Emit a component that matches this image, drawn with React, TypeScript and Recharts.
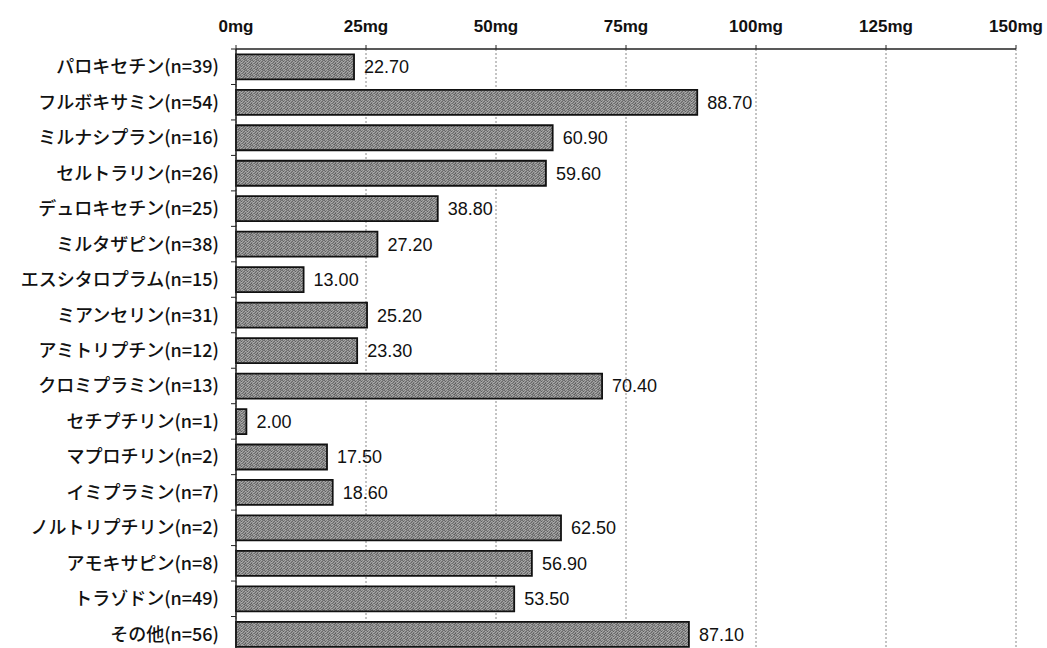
import React from 'react';
import {
  BarChart,
  Bar,
  XAxis,
  YAxis,
  CartesianGrid,
  LabelList,
} from 'recharts';

const drugs = [
  'パロキセチン(n=39)',
  'フルボキサミン(n=54)',
  'ミルナシプラン(n=16)',
  'セルトラリン(n=26)',
  'デュロキセチン(n=25)',
  'ミルタザピン(n=38)',
  'エスシタロプラム(n=15)',
  'ミアンセリン(n=31)',
  'アミトリプチン(n=12)',
  'クロミプラミン(n=13)',
  'セチプチリン(n=1)',
  'マプロチリン(n=2)',
  'イミプラミン(n=7)',
  'ノルトリプチリン(n=2)',
  'アモキサピン(n=8)',
  'トラゾドン(n=49)',
  'その他(n=56)',
];

const doses = [
  22.7, 88.7, 60.9, 59.6, 38.8, 27.2, 13.0, 25.2, 23.3, 70.4, 2.0, 17.5, 18.6,
  62.5, 56.9, 53.5, 87.1,
];

const doseTicks = [0, 25, 50, 75, 100, 125, 150];

const WIDTH = 1047;
const HEIGHT = 660;
const X_AXIS_HEIGHT = 30;
const MARGIN = { top: 19, right: 31, bottom: 8, left: 0 };
const AXIS_WIDTH = 236;
const BAND =
  (HEIGHT - MARGIN.top - MARGIN.bottom - X_AXIS_HEIGHT) / drugs.length;

const jpFont = '"Noto Sans CJK JP", sans-serif';
const numFont = '"Liberation Sans", Arial, sans-serif';

const data = drugs.map((name, i) => ({ name, dose: doses[i] }));

// grey speckle used to fill the bars
const grain = [
  ['#6e6e6e', '#9c9c9c', '#7c7c7c', '#a8a8a8', '#868686', '#727272'],
  ['#959595', '#5e5e5e', '#a2a2a2', '#838383', '#6a6a6a', '#aaaaaa'],
  ['#8a8a8a', '#b0b0b0', '#909090', '#666666', '#9e9e9e', '#7e7e7e'],
  ['#a4a4a4', '#7a7a7a', '#6c6c6c', '#a0a0a0', '#8e8e8e', '#5c5c5c'],
  ['#787878', '#9a9a9a', '#acacac', '#747474', '#626262', '#989898'],
];

const LABEL_GAP = 17;

// category label plus the short boundary tick under each row
function DrugTick(props: any) {
  const { x, y, payload } = props;
  const axisX = x + LABEL_GAP;
  return (
    <g>
      <line
        x1={axisX - 5}
        x2={axisX}
        y1={y + BAND / 2}
        y2={y + BAND / 2}
        stroke="#222"
        strokeWidth={1}
      />
      {payload.index === 0 && (
        <line
          x1={axisX - 5}
          x2={axisX}
          y1={y - BAND / 2}
          y2={y - BAND / 2}
          stroke="#222"
          strokeWidth={1}
        />
      )}
      <text
        x={x}
        y={y}
        dy="0.36em"
        textAnchor="end"
        fontFamily={jpFont}
        fontSize={18}
        fontWeight={500}
        fill="#111"
      >
        {payload.value}
      </text>
    </g>
  );
}

export default function App() {
  return (
    <div
      style={{
        position: 'absolute',
        left: 0,
        top: 0,
        width: WIDTH,
        height: 648,
        overflow: 'hidden',
        background: '#fff',
      }}
    >
      <BarChart
        width={WIDTH}
        height={HEIGHT}
        data={data}
        layout="vertical"
        margin={MARGIN}
        barCategoryGap="15%"
        style={{ overflow: 'visible' }}
      >
        <defs>
          <pattern id="grain" width="6" height="5" patternUnits="userSpaceOnUse">
            {grain.map((row, r) =>
              row.map((c, k) => (
                <rect key={`${r}-${k}`} x={k} y={r} width="1" height="1" fill={c} />
              ))
            )}
          </pattern>
        </defs>
        <CartesianGrid
          horizontal={false}
          strokeDasharray="2 2"
          stroke="#888"
        />
        <XAxis
          type="number"
          orientation="top"
          height={X_AXIS_HEIGHT}
          domain={[0, 150]}
          ticks={doseTicks}
          tickFormatter={(v: number) => `${v}mg`}
          tickSize={4}
          tickMargin={13}
          axisLine={{ stroke: '#222', strokeWidth: 1.5 }}
          tickLine={{ stroke: '#222' }}
          tick={{ fontFamily: numFont, fontSize: 17, fontWeight: 'bold', fill: '#111' }}
          interval={0}
        />
        <YAxis
          type="category"
          dataKey="name"
          width={AXIS_WIDTH}
          tickSize={0}
          tickMargin={LABEL_GAP}
          axisLine={{ stroke: '#222', strokeWidth: 1.5 }}
          tickLine={false}
          tick={<DrugTick />}
          interval={0}
        />
        <Bar
          dataKey="dose"
          fill="url(#grain)"
          stroke="#111"
          strokeWidth={1.8}
          isAnimationActive={false}
        >
          <LabelList
            dataKey="dose"
            position="right"
            offset={10}
            formatter={(v: number) => v.toFixed(2)}
            style={{ fontFamily: numFont, fontSize: 18, fill: '#111' }}
          />
        </Bar>
      </BarChart>
    </div>
  );
}
